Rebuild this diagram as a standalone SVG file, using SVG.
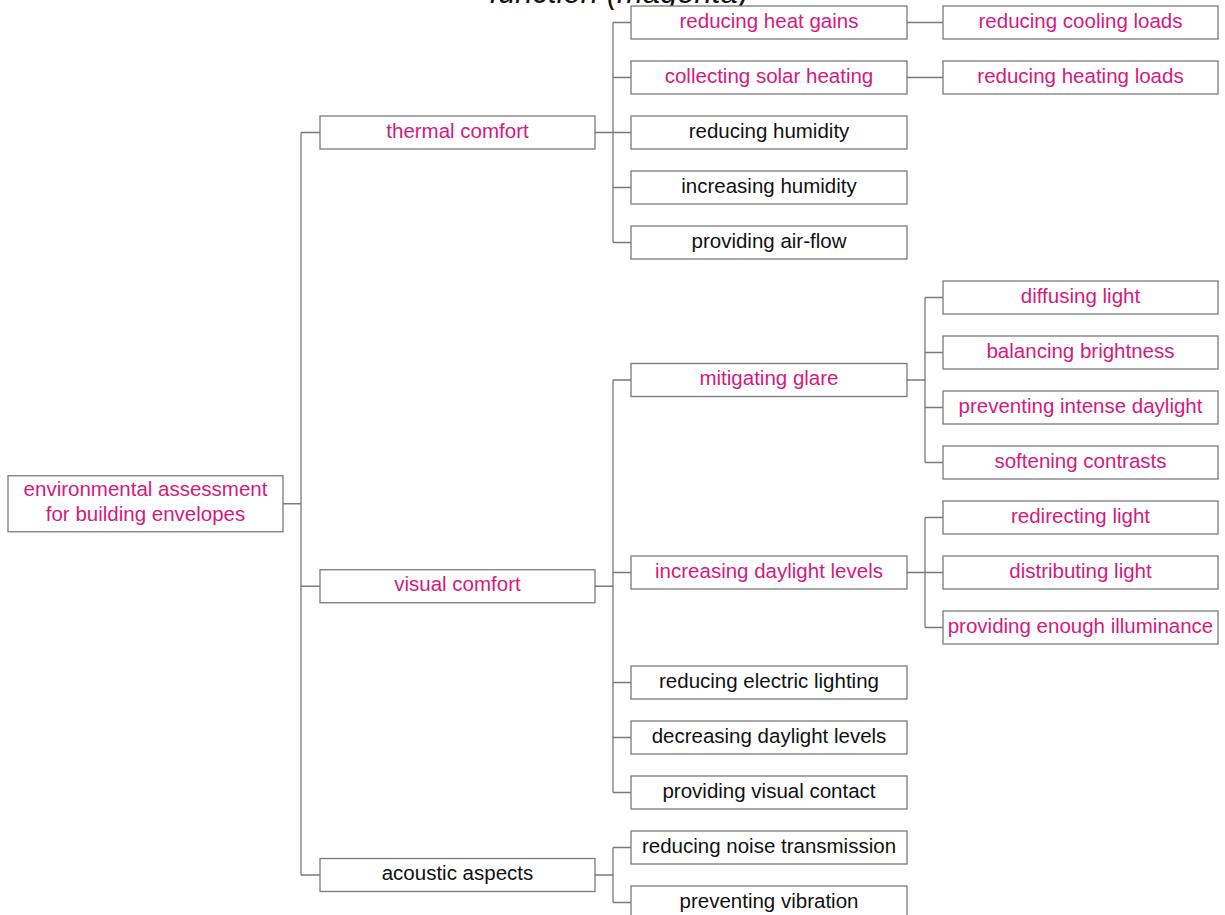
<svg xmlns="http://www.w3.org/2000/svg" width="1225" height="915" viewBox="0 0 1225 915">
<style>
.b{fill:#fff;stroke:#7a7a7a;stroke-width:1.3}
.t{font-family:"Liberation Sans",Arial,sans-serif;font-size:20.5px;text-anchor:middle;fill:#111}
.m{fill:#d6197c}
.c{fill:none;stroke:#7a7a7a;stroke-width:1.3}
</style>
<rect width="1225" height="915" fill="#fff"/>
<text x="748" y="3" font-family="Liberation Sans, Arial, sans-serif" font-size="31" font-style="italic" text-anchor="end" fill="#111">function (magenta)</text>
<g id="connectors">
<path class="c" d="M283 503.75H301M301 132.5V875M301 132.5H320M301 586.25H320M301 875H320"/>
<path class="c" d="M595 132.5H613M613 22.5V242.5M613 22.5H631M613 77.5H631M613 132.5H631M613 187.5H631M613 242.5H631"/>
<path class="c" d="M595 586.25H613M613 380V792.5M613 380H631M613 572.5H631M613 682.5H631M613 737.5H631M613 792.5H631"/>
<path class="c" d="M595 875H613M613 847.5V902.5M613 847.5H631M613 902.5H631"/>
<path class="c" d="M907 22.5H943M907 77.5H943"/>
<path class="c" d="M907 380H925M925 297.5V462.5M925 297.5H943M925 352.5H943M925 407.5H943M925 462.5H943"/>
<path class="c" d="M907 572.5H925M925 517.5V627.5M925 517.5H943M925 572.5H943M925 627.5H943"/>
</g>
<g id="root"><rect class="b" x="8" y="475.75" width="275" height="56"/><text class="t m" x="145.5" y="496">environmental assessment</text><text class="t m" x="145.5" y="521">for building envelopes</text></g>
<g id="thermal"><rect class="b" x="320" y="116" width="275" height="33"/><text class="t m" x="457.5" y="137.5">thermal comfort</text></g>
<g id="visual"><rect class="b" x="320" y="569.75" width="275" height="33"/><text class="t m" x="457.5" y="591.25">visual comfort</text></g>
<g id="acoustic"><rect class="b" x="320" y="858.5" width="275" height="33"/><text class="t" x="457.5" y="880">acoustic aspects</text></g>
<g id="heatgains"><rect class="b" x="631" y="6" width="276" height="33"/><text class="t m" x="769" y="27.5">reducing heat gains</text></g>
<g id="solar"><rect class="b" x="631" y="61" width="276" height="33"/><text class="t m" x="769" y="82.5">collecting solar heating</text></g>
<g id="redhum"><rect class="b" x="631" y="116" width="276" height="33"/><text class="t" x="769" y="137.5">reducing humidity</text></g>
<g id="inchum"><rect class="b" x="631" y="171" width="276" height="33"/><text class="t" x="769" y="192.5">increasing humidity</text></g>
<g id="airflow"><rect class="b" x="631" y="226" width="276" height="33"/><text class="t" x="769" y="247.5">providing air-flow</text></g>
<g id="glare"><rect class="b" x="631" y="363.5" width="276" height="33"/><text class="t m" x="769" y="385">mitigating glare</text></g>
<g id="incday"><rect class="b" x="631" y="556" width="276" height="33"/><text class="t m" x="769" y="577.5">increasing daylight levels</text></g>
<g id="electric"><rect class="b" x="631" y="666" width="276" height="33"/><text class="t" x="769" y="687.5">reducing electric lighting</text></g>
<g id="decday"><rect class="b" x="631" y="721" width="276" height="33"/><text class="t" x="769" y="742.5">decreasing daylight levels</text></g>
<g id="contact"><rect class="b" x="631" y="776" width="276" height="33"/><text class="t" x="769" y="797.5">providing visual contact</text></g>
<g id="noise"><rect class="b" x="631" y="831" width="276" height="33"/><text class="t" x="769" y="852.5">reducing noise transmission</text></g>
<g id="vibration"><rect class="b" x="631" y="886" width="276" height="33"/><text class="t" x="769" y="907.5">preventing vibration</text></g>
<g id="cooling"><rect class="b" x="943" y="6" width="275" height="33"/><text class="t m" x="1080.5" y="27.5">reducing cooling loads</text></g>
<g id="heating"><rect class="b" x="943" y="61" width="275" height="33"/><text class="t m" x="1080.5" y="82.5">reducing heating loads</text></g>
<g id="diffusing"><rect class="b" x="943" y="281" width="275" height="33"/><text class="t m" x="1080.5" y="302.5">diffusing light</text></g>
<g id="balancing"><rect class="b" x="943" y="336" width="275" height="33"/><text class="t m" x="1080.5" y="357.5">balancing brightness</text></g>
<g id="intense"><rect class="b" x="943" y="391" width="275" height="33"/><text class="t m" x="1080.5" y="412.5">preventing intense daylight</text></g>
<g id="softening"><rect class="b" x="943" y="446" width="275" height="33"/><text class="t m" x="1080.5" y="467.5">softening contrasts</text></g>
<g id="redirecting"><rect class="b" x="943" y="501" width="275" height="33"/><text class="t m" x="1080.5" y="522.5">redirecting light</text></g>
<g id="distributing"><rect class="b" x="943" y="556" width="275" height="33"/><text class="t m" x="1080.5" y="577.5">distributing light</text></g>
<g id="illuminance"><rect class="b" x="943" y="611" width="275" height="33"/><text class="t m" x="1080.5" y="632.5">providing enough illuminance</text></g>
</svg>
